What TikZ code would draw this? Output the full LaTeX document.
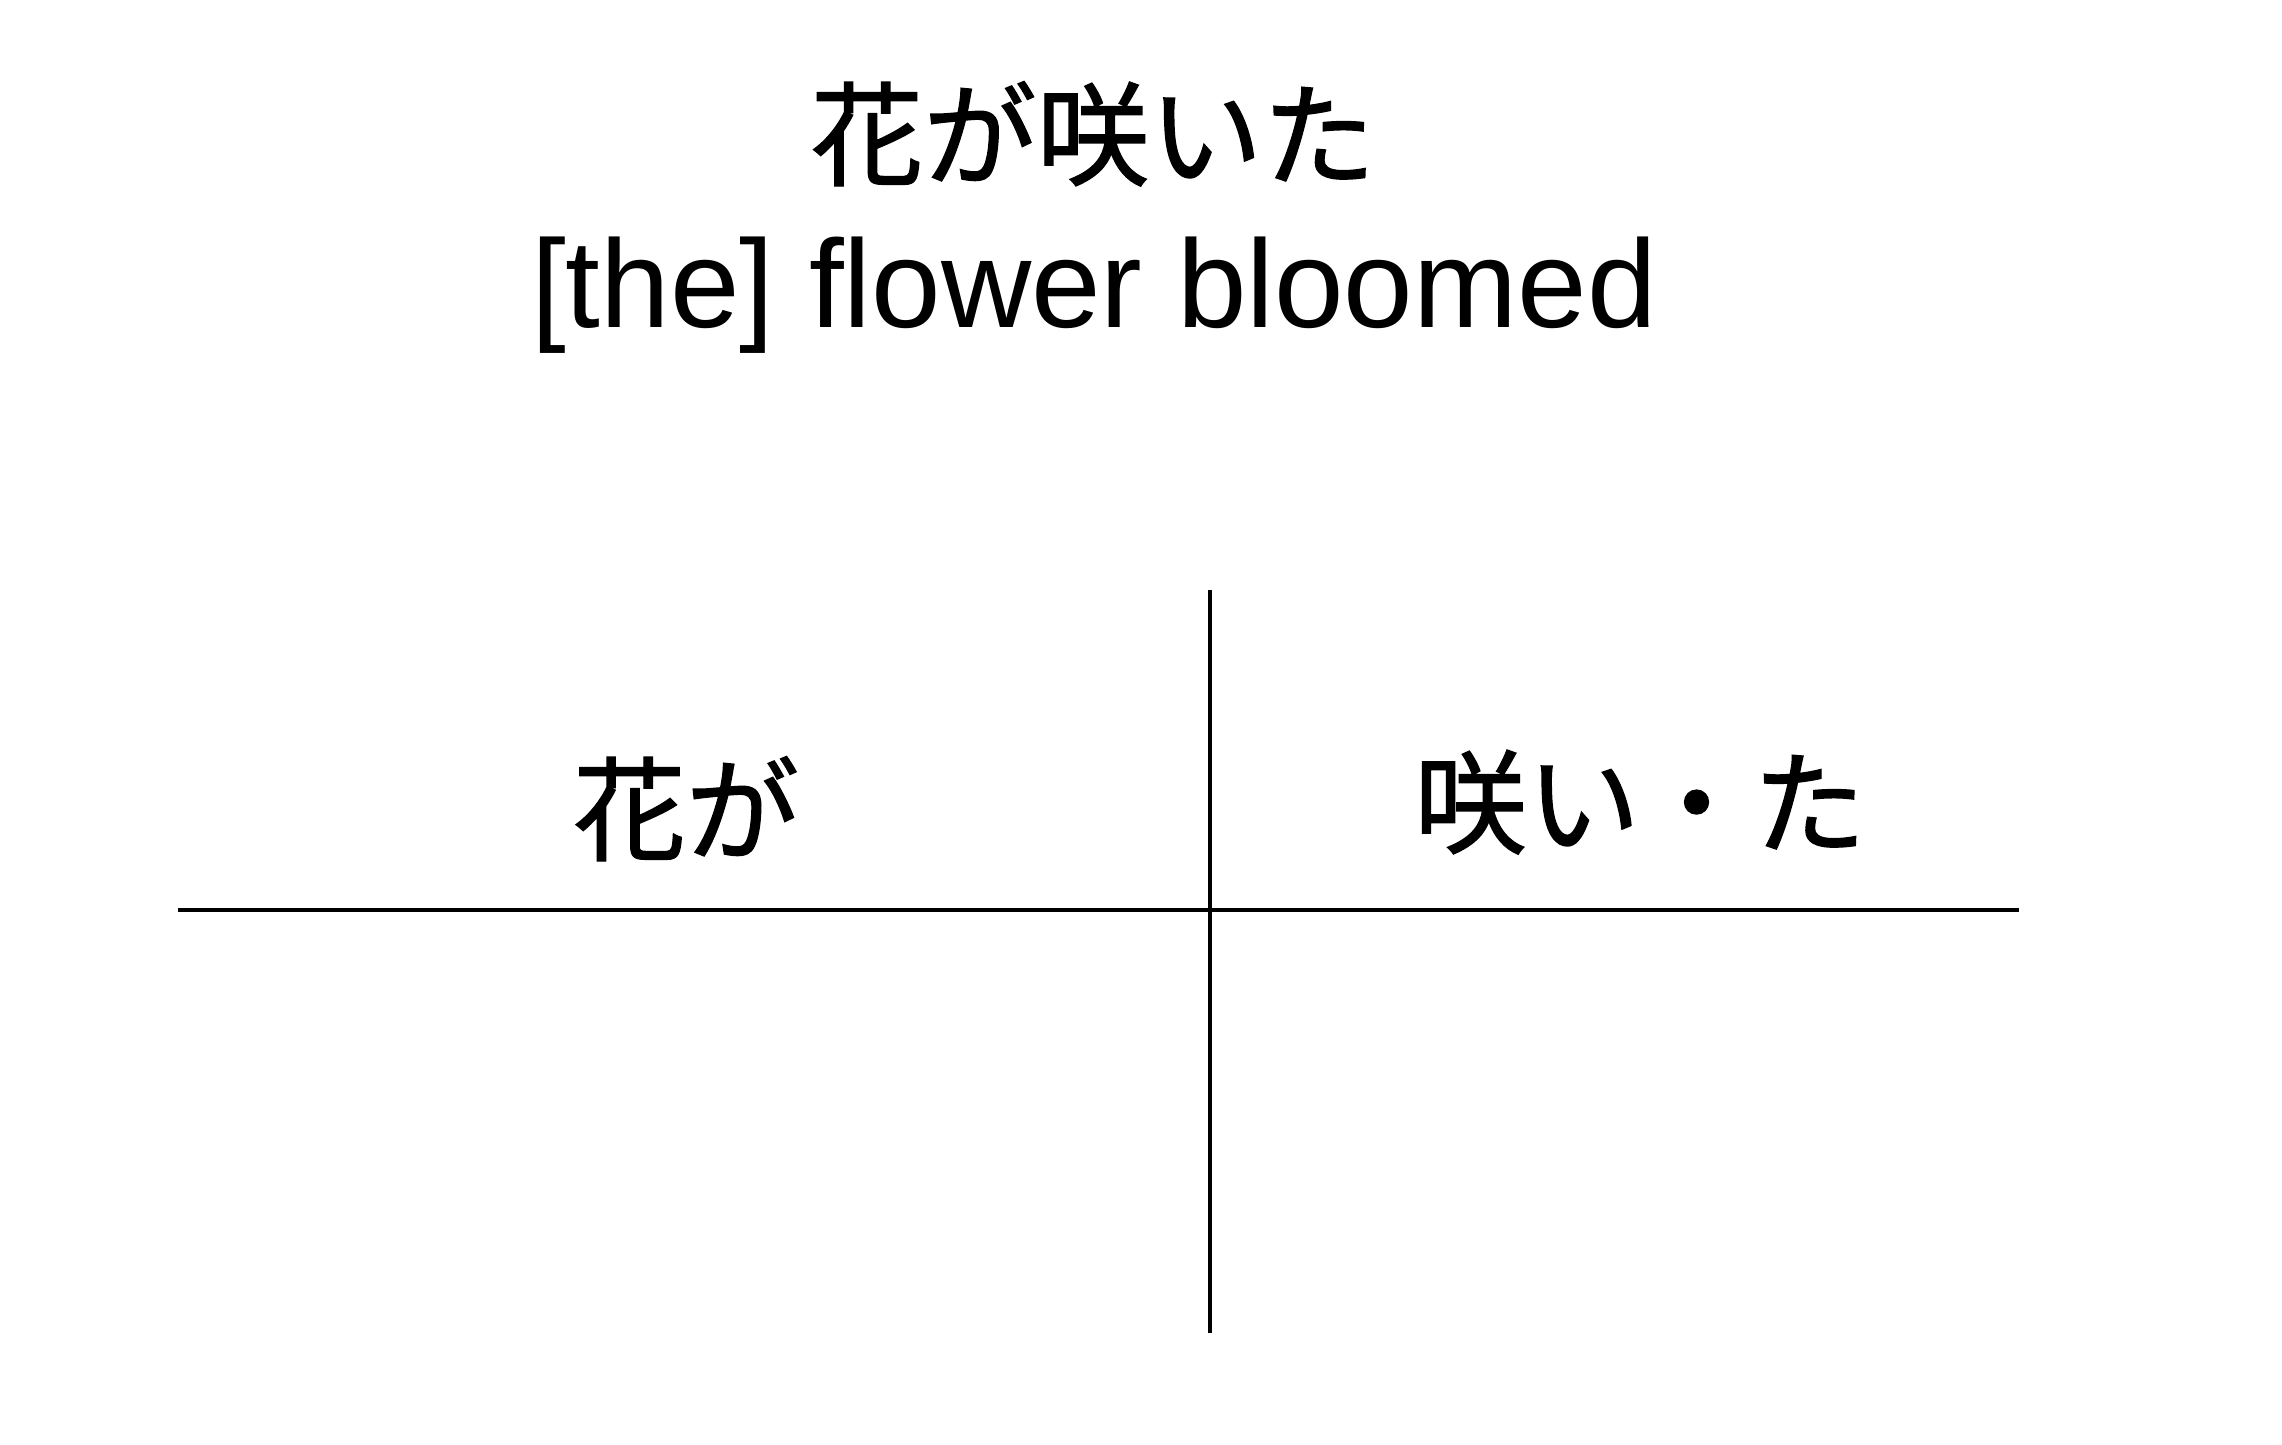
\documentclass[tikz,border=0pt]{standalone}
\usepackage{fontspec}
\setmainfont{Liberation Sans}
\newfontfamily\jp[FakeBold=1.2]{Noto Sans CJK JP}
\begin{document}
\begin{tikzpicture}[x=1pt,y=-1pt,
  jptext/.style={inner sep=0pt,anchor=base,font=\jp\fontsize{113}{130}\selectfont},
  entext/.style={inner sep=0pt,anchor=base,font=\fontsize{125}{140}\selectfont},
  rule/.style={line width=4pt,line cap=butt}]
\useasboundingbox[fill=white] (0,0) rectangle (2282,1444);
\node[jptext] (title) at (1093,177) {花が咲いた};
\node[entext] (gloss) at (1094,327) {[the] flower bloomed};
\node[jptext] (subj) at (686,852) {花が};
\node[jptext] (pred) at (1640,845) {咲い・た};
\coordinate (vtop) at (1209.5,590);
\coordinate (vbot) at (1209.5,1333);
\coordinate (hleft) at (177.5,909.5);
\coordinate (hright) at (2018.5,909.5);
\draw[rule] (vtop) -- (vbot);
\draw[rule] (hleft) -- (hright);
\end{tikzpicture}
\end{document}
